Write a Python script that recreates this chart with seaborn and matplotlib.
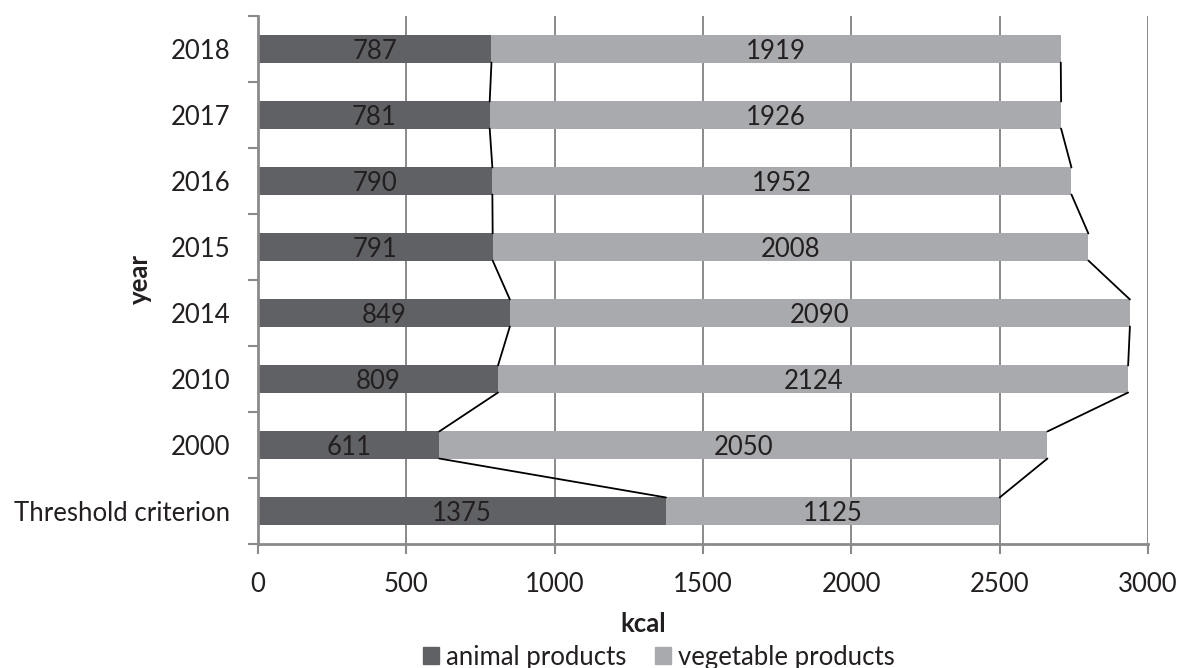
import matplotlib
matplotlib.use("Agg")
import matplotlib.pyplot as plt
import matplotlib.patches as mpatches
from matplotlib.ticker import FixedLocator
import seaborn as sns
import pandas as pd
import numpy as np

categories = ["2018", "2017", "2016", "2015", "2014", "2010", "2000", "Threshold criterion"]
animal = [787, 781, 790, 791, 849, 809, 611, 1375]
vegetable = [1919, 1926, 1952, 2008, 2090, 2124, 2050, 1125]
xticks = [0, 500, 1000, 1500, 2000, 2500, 3000]
series_names = ["animal products", "vegetable products"]

dark = "#606165"
light = "#a8aaad"
grid_c = "#8a8a8a"
txt = "#231f20"

sns.set_theme(style="white")
FAM = ["Lato", "DejaVu Sans"]
plt.rcParams["font.family"] = FAM

W, H = 1181, 668


def fit_size(samples):
    """font size (pt) so that the sample strings get roughly the given pixel widths"""
    f = plt.figure(figsize=(4, 2), dpi=100)
    r = f.canvas.get_renderer()
    ratios = []
    for s, target in samples:
        t = f.text(0, 0, s, fontsize=20)
        ratios.append(target / t.get_window_extent(r).width)
    plt.close(f)
    return 20 * float(np.exp(np.mean(np.log(ratios))))


fs = fit_size([("Threshold criterion", 218), ("2018", 56), ("animal products", 186),
               ("vegetable products", 224)])

df = pd.DataFrame({"cat": categories, "animal": animal, "vegetable": vegetable})
df["total"] = df["animal"] + df["vegetable"]

fig = plt.figure(figsize=(W / 100, H / 100), dpi=100)
ax = fig.add_axes([258 / W, 1 - 544 / H, (1148 - 258) / W, (544 - 16) / H])

bw = 0.41
sns.barplot(data=df, y="cat", x="total", order=categories, color=light, width=bw,
            saturation=1, ax=ax, orient="h", zorder=3, linewidth=0)
sns.barplot(data=df, y="cat", x="animal", order=categories, color=dark, width=bw,
            saturation=1, ax=ax, orient="h", zorder=3, linewidth=0)

# value labels
for i, (a, v) in enumerate(zip(animal, vegetable)):
    ax.text(a / 2, i, str(a), ha="center", va="center_baseline", fontsize=fs, color=txt, zorder=5)
    ax.text(a + v / 2, i, str(v), ha="center", va="center_baseline", fontsize=fs, color=txt, zorder=5)

# series lines
tot = [a + v for a, v in zip(animal, vegetable)]
for i in range(len(categories) - 1):
    for s in (animal, tot):
        ax.plot([s[i], s[i + 1]], [i + bw / 2, i + 1 - bw / 2], color="black", lw=1.3, zorder=4)

ax.set_xlim(0, 3000)
ax.set_ylim(len(categories) - 0.5, -0.5)
ax.set_xticks(xticks)
ax.set_xticklabels([str(t) for t in xticks])
ax.xaxis.grid(True, color=grid_c, lw=1.4, zorder=0)
ax.set_axisbelow(True)

for sp in ["top", "right"]:
    ax.spines[sp].set_visible(False)
for sp in ["left", "bottom"]:
    ax.spines[sp].set_color(grid_c)
    ax.spines[sp].set_linewidth(2.0)
    ax.spines[sp].set_zorder(6)

ax.yaxis.set_minor_locator(FixedLocator(np.arange(-0.5, len(categories), 1.0)))
ax.tick_params(axis="y", which="major", length=0, pad=20, labelsize=fs, labelcolor=txt)
ax.tick_params(axis="y", which="minor", length=7, width=1.5, color=grid_c, left=True)
ax.tick_params(axis="x", which="major", length=7, width=1.5, color=grid_c, bottom=True,
               direction="out", pad=13, labelsize=fs, labelcolor=txt)

ax.set_xlabel("")
ax.set_ylabel("")
fig.text(140 / W, 1 - 279 / H, "year", rotation=90, ha="center", va="center", fontsize=fs,
         fontweight="bold", color=txt)
fig.text(643 / W, 1 - 632 / H, "kcal", ha="center", va="baseline", fontsize=fs,
         fontweight="bold", color=txt)

handles = [mpatches.Patch(color=dark, label=series_names[0]),
           mpatches.Patch(color=light, label=series_names[1])]
fig.legend(handles=handles, loc="center left", bbox_to_anchor=(423 / W, 1 - 657 / H), ncol=2,
           frameon=False, fontsize=fs, handlelength=0.62, handleheight=0.62,
           handletextpad=0.27, columnspacing=1.1, labelcolor=txt, borderpad=0,
           borderaxespad=0)

fig.savefig("out.png", dpi=100)
